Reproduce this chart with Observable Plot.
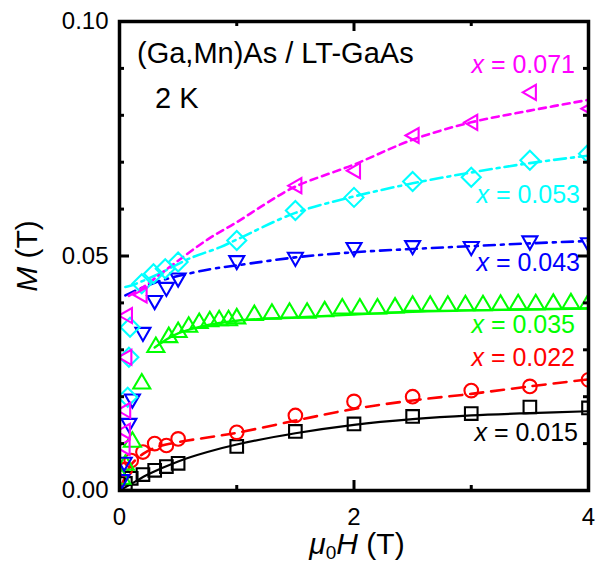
<!DOCTYPE html>
<html><head><meta charset="utf-8">
<script src="https://cdn.jsdelivr.net/npm/d3@7"></script>
<script src="https://cdn.jsdelivr.net/npm/@observablehq/plot@0.6"></script>
<style>body{margin:0;background:#fff}#chart svg{display:block}</style>
</head><body><div id="chart"></div>
<script>
// ---------- data ----------
const seriesNames = ["0.015", "0.022", "0.035", "0.043", "0.053", "0.071"];
const seriesColors = ["#000000", "#ff0000", "#00ff00", "#0000ff", "#00ffff", "#ff00ff"];

// measured points  (mu0H in T, M in T)
const hBlack = [0.05, 0.1, 0.2, 0.3, 0.4, 0.5, 1.0, 1.5, 2.0, 2.5, 3.0, 3.5, 4.0];
const mBlack = [0.0015, 0.0026, 0.0034, 0.0043, 0.0051, 0.0058, 0.0094, 0.0126, 0.0142, 0.0158, 0.0164, 0.0178, 0.0176];
const hRed = [0.05, 0.1, 0.2, 0.3, 0.4, 0.5, 1.0, 1.5, 2.0, 2.5, 3.0, 3.5, 4.0];
const mRed = [0.0045, 0.0064, 0.0082, 0.0100, 0.0096, 0.0110, 0.0124, 0.0160, 0.0190, 0.0200, 0.0213, 0.0222, 0.0236];
const hGreen = [0.02, 0.05, 0.11, 0.19, 0.31, 0.42, 0.5, 0.59, 0.68, 0.77, 0.85, 0.93, 1.0, 1.15, 1.3, 1.45, 1.6, 1.75, 1.9, 2.05, 2.2, 2.35, 2.5, 2.65, 2.8, 2.95, 3.1, 3.25, 3.4, 3.55, 3.7, 3.85, 4.0];
const mGreen = [0.0028, 0.0058, 0.0107, 0.0231, 0.0309, 0.0330, 0.0341, 0.0352, 0.0360, 0.0364, 0.0366, 0.0366, 0.0370, 0.0377, 0.0380, 0.0382, 0.0382, 0.0385, 0.0391, 0.0391, 0.0391, 0.0393, 0.0397, 0.0397, 0.0397, 0.0398, 0.0398, 0.0399, 0.0400, 0.0400, 0.0401, 0.0402, 0.0402];
const hBlue = [0.02, 0.04, 0.08, 0.11, 0.2, 0.3, 0.4, 0.5, 1.0, 1.5, 2.0, 2.5, 3.0, 3.5, 4.0];
const mBlue = [0.0020, 0.0057, 0.0140, 0.0192, 0.0334, 0.0402, 0.0430, 0.0450, 0.0487, 0.0494, 0.0515, 0.0519, 0.0517, 0.0529, 0.0525];
const hCyan = [0.07, 0.08, 0.09, 0.19, 0.29, 0.39, 0.5, 1.0, 1.5, 2.0, 2.5, 3.0, 3.5, 4.0];
const mCyan = [0.0199, 0.0284, 0.0348, 0.0441, 0.0462, 0.0473, 0.0487, 0.0533, 0.0597, 0.0625, 0.0659, 0.0668, 0.0704, 0.0718];
const hMagenta = [0.035, 0.037, 0.04, 0.05, 0.055, 0.18, 1.5, 2.0, 2.5, 3.0, 3.5, 4.0];
const mMagenta = [0.0092, 0.0126, 0.0171, 0.0284, 0.0373, 0.0417, 0.0650, 0.0682, 0.0757, 0.0785, 0.0849, 0.0814];

// fitted curves
const fhBlack = [0, 0.1, 0.25, 0.5, 0.75, 1, 1.5, 2, 2.5, 3, 3.5, 4];
const fmBlack = [0, 0.0014, 0.0035, 0.0062, 0.0082, 0.0098, 0.0122, 0.0140, 0.0152, 0.0160, 0.0165, 0.0169];
const fhRed = [0, 0.05, 0.1, 0.2, 0.3, 0.5, 0.75, 1, 1.5, 2, 2.5, 3, 3.5, 4];
const fmRed = [0, 0.0030, 0.0055, 0.0078, 0.0091, 0.0103, 0.0113, 0.0123, 0.0149, 0.0174, 0.0192, 0.0206, 0.0222, 0.0237];
const fhGreen = [0.3, 0.4, 0.5, 0.7, 1, 1.5, 2, 2.5, 3, 3.5, 4];
const fmGreen = [0.0305, 0.0322, 0.0335, 0.0350, 0.0362, 0.0369, 0.0375, 0.0381, 0.0384, 0.0386, 0.0388];
const fhBlue = [0.05, 0.1, 0.2, 0.3, 0.4, 0.6, 0.8, 1, 1.5, 2, 2.5, 3, 3.5, 4];
const fmBlue = [0.0416, 0.0422, 0.0433, 0.0443, 0.0451, 0.0463, 0.0473, 0.0480, 0.0497, 0.0508, 0.0515, 0.0521, 0.0527, 0.0532];
const fhCyan = [0.05, 0.1, 0.2, 0.3, 0.4, 0.6, 0.86, 1, 1.5, 2, 2.5, 3, 3.5, 4];
const fmCyan = [0.0434, 0.0437, 0.0447, 0.0458, 0.0470, 0.0495, 0.0519, 0.0535, 0.0592, 0.0627, 0.0655, 0.0678, 0.0698, 0.0714];
const fhMagenta = [0.08, 0.2, 0.3, 0.5, 0.75, 1, 1.25, 1.5, 2, 2.5, 3, 3.5, 4];
const fmMagenta = [0.0415, 0.0433, 0.0452, 0.0490, 0.0535, 0.0572, 0.0612, 0.0648, 0.0695, 0.0748, 0.0785, 0.0810, 0.0833];

// axes
const xTicks = [0, 2, 4];
const xTickLabels = ["0", "2", "4"];
const xMinor = [1, 3];
const yTicks = [0, 0.05, 0.1];
const yTickLabels = ["0.00", "0.05", "0.10"];
const yMinor = [0.01, 0.02, 0.03, 0.04, 0.06, 0.07, 0.08, 0.09];
const titleText = "(Ga,Mn)As / LT-GaAs";
const tempText = "2 K";

// ---------- styles ----------
const FONT = "'Liberation Sans', Arial, Helvetica, sans-serif";
const W = 597, H = 565, ML = 119, MR = 9, MT = 21, MB = 75;
const IW = W - ML - MR, IH = H - MT - MB;

const shape = (pts) => ({
  draw(ctx, size) {
    const r = Math.sqrt(size / Math.PI);
    ctx.moveTo(pts[0][0] * r, pts[0][1] * r);
    for (let i = 1; i < pts.length; i++) ctx.lineTo(pts[i][0] * r, pts[i][1] * r);
    ctx.closePath();
  }
});
const symSquare = shape([[-1, -1], [1, -1], [1, 1], [-1, 1]]);
const symTriUp = shape([[0, -0.95], [1, 0.75], [-1, 0.75]]);
const symTriDown = shape([[-1, -0.8], [1, -0.8], [0, 0.95]]);
const symTriLeft = shape([[-0.95, 0], [0.8, -1], [0.8, 1]]);
const symDiamond = shape([[0, -1], [1, 0], [0, 1], [-1, 0]]);

const pointSets = [
  {h: hBlack, m: mBlack, symbol: symSquare, r: 6.3},
  {h: hRed, m: mRed, symbol: "circle", r: 6.8},
  {h: hGreen, m: mGreen, symbol: symTriUp, r: 8.5},
  {h: hBlue, m: mBlue, symbol: symTriDown, r: 7.5},
  {h: hCyan, m: mCyan, symbol: symDiamond, r: 9.5},
  {h: hMagenta, m: mMagenta, symbol: symTriLeft, r: 7.5}
];
const fitSets = [
  {h: fhBlack, m: fmBlack, dash: null, sw: 2.2},
  {h: fhRed, m: fmRed, dash: "13,8", sw: 2.6},
  {h: fhGreen, m: fmGreen, dash: null, sw: 2.4},
  {h: fhBlue, m: fmBlue, dash: "11,6,3,6", sw: 2.6},
  {h: fhCyan, m: fmCyan, dash: "12,5,3,5", sw: 2.6},
  {h: fhMagenta, m: fmMagenta, dash: "7,5", sw: 2.6}
];

const marks = [];
fitSets.forEach((f, k) => {
  const rows = f.h.map((h, i) => ({h, m: f.m[i]}));
  marks.push(Plot.line(rows, {x: "h", y: "m", stroke: seriesColors[k], strokeWidth: f.sw,
    strokeDasharray: f.dash, curve: "catmull-rom", clip: true}));
});
pointSets.forEach((p, k) => {
  const rows = p.h.map((h, i) => ({h, m: p.m[i]}));
  marks.push(Plot.dot(rows, {x: "h", y: "m", symbol: p.symbol, r: p.r, stroke: seriesColors[k],
    fill: "none", strokeWidth: 2.1, clip: true}));
});
// frame and inward ticks
marks.push(Plot.frame({stroke: "black", strokeWidth: 3.5}));
marks.push(Plot.tickY(yTicks, {y: d => d, insetRight: IW - 10, strokeWidth: 3}));
marks.push(Plot.tickY(yTicks, {y: d => d, insetLeft: IW - 10, strokeWidth: 3}));
marks.push(Plot.tickY(yMinor, {y: d => d, insetRight: IW - 5, strokeWidth: 3}));
marks.push(Plot.tickY(yMinor, {y: d => d, insetLeft: IW - 5, strokeWidth: 3}));
marks.push(Plot.tickX(xTicks, {x: d => d, insetTop: IH - 10, strokeWidth: 3}));
marks.push(Plot.tickX(xTicks, {x: d => d, insetBottom: IH - 10, strokeWidth: 3}));
marks.push(Plot.tickX(xMinor, {x: d => d, insetTop: IH - 5, strokeWidth: 3}));
marks.push(Plot.tickX(xMinor, {x: d => d, insetBottom: IH - 5, strokeWidth: 3}));
// tick labels
marks.push(Plot.axisX(xTicks, {tickSize: 0, tickPadding: 17, fontSize: 24, label: null,
  tickFormat: (d) => xTickLabels[xTicks.indexOf(d)]}));
marks.push(Plot.axisY(yTicks, {tickSize: 0, tickPadding: 11, fontSize: 24, label: null,
  tickFormat: (d) => yTickLabels[yTicks.indexOf(d)]}));

const chart = Plot.plot({
  width: W, height: H,
  marginLeft: ML, marginRight: MR, marginTop: MT, marginBottom: MB,
  x: {domain: [0, 4]},
  y: {domain: [0, 0.1]},
  style: {fontFamily: FONT, background: "white", color: "black", overflow: "visible"},
  marks
});
document.getElementById("chart").appendChild(chart);

// ---------- text annotations ----------
const svg = d3.select(chart);
function addText(x, y, anchor, size, color, parts, rotate) {
  const t = svg.append("text").attr("x", x).attr("y", y).attr("text-anchor", anchor)
    .attr("font-size", size).attr("fill", color).attr("font-family", FONT);
  if (rotate) t.attr("transform", `rotate(${rotate},${x},${y})`);
  parts.forEach(p => {
    const s = t.append("tspan").text(p.t);
    if (p.i) s.attr("font-style", "italic");
    if (p.size) s.attr("font-size", p.size);
    if (p.dy) s.attr("dy", p.dy);
  });
  return t;
}
addText(137, 63, "start", 29, "black", [{t: titleText}]);
addText(155, 108, "start", 29, "black", [{t: tempText}]);

const labelPos = [[578, 441], [575, 366], [575, 333], [580, 271], [580, 203], [575, 73]];
seriesNames.forEach((n, k) => {
  addText(labelPos[k][0], labelPos[k][1], "end", 25, seriesColors[k], [{t: "x", i: true}, {t: " = " + n}]);
});

addText(37, 256, "middle", 30, "black", [{t: "M", i: true}, {t: " (T)"}], -90);
addText(357, 554, "middle", 30, "black",
  [{t: "μ", i: true}, {t: "0", size: 19, dy: 5}, {t: "H", i: true, dy: -5}, {t: " (T)"}]);
</script></body></html>
